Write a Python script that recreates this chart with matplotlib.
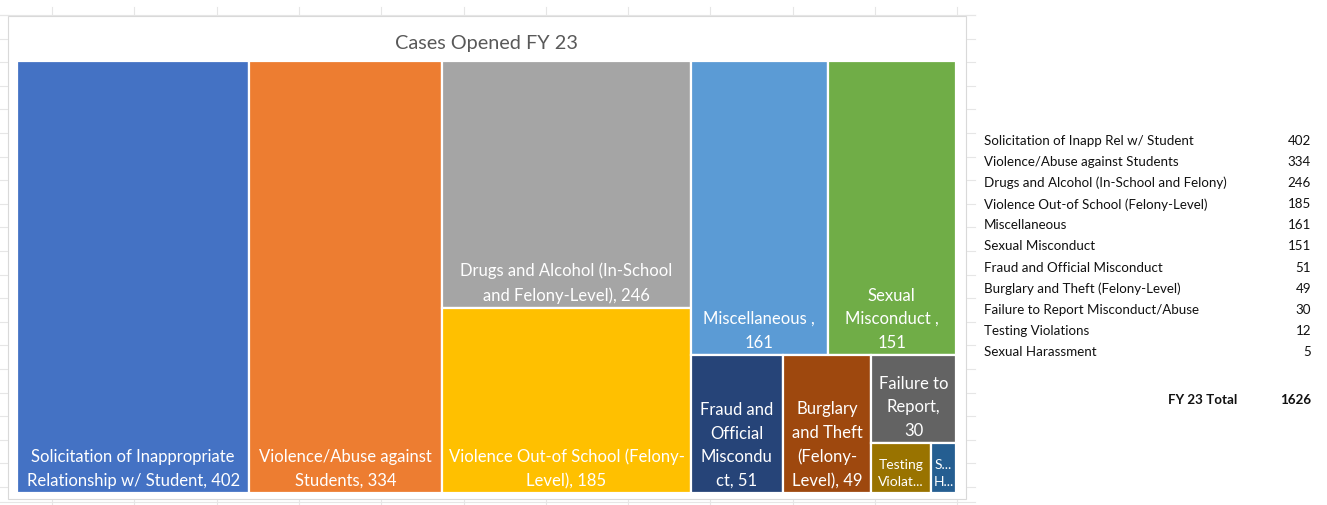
import matplotlib
matplotlib.use("Agg")
import matplotlib.pyplot as plt
from matplotlib.patches import Rectangle
from matplotlib.lines import Line2D
import numpy as np

plt.rcParams['font.family'] = ['Lato', 'DejaVu Sans']

# ---------------- data ----------------
TITLE = "Cases Opened FY 23"
values = [402, 334, 246, 185, 161, 151, 51, 49, 30, 12, 5]
cell_labels = [
    "Solicitation of Inappropriate\nRelationship w/ Student, {v}",
    "Violence/Abuse against\nStudents, {v}",
    "Drugs and Alcohol (In-School\nand Felony-Level), {v}",
    "Violence Out-of School (Felony-\nLevel), {v}",
    "Miscellaneous ,\n{v}",
    "Sexual\nMisconduct ,\n{v}",
    "Fraud and\nOfficial\nMiscondu\nct, {v}",
    "Burglary\nand Theft\n(Felony-\nLevel), {v}",
    "Failure to\nReport,\n{v}",
    "Testing\nViolat...",
    "S...\nH...",
]
table_names = [
    "Solicitation of Inapp Rel w/ Student",
    "Violence/Abuse against Students",
    "Drugs and Alcohol (In-School and Felony)",
    "Violence Out-of School (Felony-Level)",
    "Miscellaneous",
    "Sexual Misconduct",
    "Fraud and Official Misconduct",
    "Burglary and Theft (Felony-Level)",
    "Failure to Report Misconduct/Abuse",
    "Testing Violations",
    "Sexual Harassment",
]
total_label = "FY 23 Total"

colors = ["#4472C4", "#ED7D31", "#A5A5A5", "#FFC000", "#5B9BD5", "#70AD47",
          "#264478", "#9E480E", "#636363", "#997300", "#255E91"]

# ---------------- squarified layout ----------------
LAYOUT_W, LAYOUT_H = 2.8, 1.0


def worst(row, side):
    s = sum(row)
    return max(max(side * side * r / (s * s), (s * s) / (side * side * r)) for r in row)


def squarify(vals, x, y, w, h):
    total = sum(vals)
    areas = [v * w * h / total for v in vals]
    rects = []
    i, n = 0, len(areas)
    while i < n:
        side = min(w, h)
        row = [areas[i]]
        j = i + 1
        while j < n and worst(row + [areas[j]], side) <= worst(row, side):
            row.append(areas[j])
            j += 1
        s = sum(row)
        if w >= h:
            t = s / h
            yy = y
            for a in row:
                hh = a / t
                rects.append((x, yy, t, hh))
                yy += hh
            x += t
            w -= t
        else:
            t = s / w
            xx = x
            for a in row:
                ww = a / t
                rects.append((xx, y, ww, t))
                xx += ww
            y += t
            h -= t
        i = j
    return rects


W, H = 1327, 506
fig = plt.figure(figsize=(W / 100, H / 100), dpi=100)
fig.patch.set_facecolor("white")


def fx(px):
    return px / W


def fy(py):
    return 1 - py / H


# faint spreadsheet grid around the chart
grid_c = "#E6E6E6"
for gx in np.arange(52, 970, 82.3):
    fig.add_artist(Line2D([fx(gx), fx(gx)], [fy(8), fy(17)], color=grid_c, lw=0.8, zorder=-10))
    fig.add_artist(Line2D([fx(gx), fx(gx)], [fy(500), fy(506)], color=grid_c, lw=0.8, zorder=-10))
for gy in np.arange(16, 506, 23.6):
    fig.add_artist(Line2D([fx(0), fx(8)], [fy(gy), fy(gy)], color=grid_c, lw=0.8, zorder=-10))
    fig.add_artist(Line2D([fx(966), fx(975)], [fy(gy), fy(gy)], color=grid_c, lw=0.8, zorder=-10))
fig.add_artist(Line2D([fx(0), fx(975)], [fy(16), fy(16)], color=grid_c, lw=0.8, zorder=-10))
fig.add_artist(Line2D([fx(0), fx(975)], [fy(503), fy(503)], color=grid_c, lw=0.8, zorder=-10))

# chart frame
fig.add_artist(Rectangle((fx(8), fy(500)), fx(966) - fx(8), fy(17) - fy(500),
                         transform=fig.transFigure, facecolor="white",
                         edgecolor="#D9D9D9", lw=0.8, zorder=-5))

fig.text(fx(486), fy(43), TITLE, ha="center", va="center", fontsize=14.3, color="#595959")

ax = fig.add_axes([fx(17), fy(494), fx(956) - fx(17), fy(62) - fy(494)])
ax.set_zorder(2)
ax.patch.set_alpha(0)
ax.set_xlim(0, LAYOUT_W)
ax.set_ylim(LAYOUT_H, 0)
ax.axis("off")

rects = squarify(values, 0, 0, LAYOUT_W, LAYOUT_H)
for (x, y, w, h), c, lab, v in zip(rects, colors, cell_labels, values):
    ax.add_patch(Rectangle((x, y), w, h, facecolor=c, edgecolor="white", lw=1.6))
    small = v < 20
    ax.annotate(lab.format(v=v), xy=(x + w / 2, y + h), xytext=(0, 5 if not small else 6),
                textcoords="offset pixels", ha="center", va="bottom",
                color="white", fontsize=10 if small else 12.0,
                linespacing=1.5 if small else 1.58)

# table on the right
row_y0, row_dy = 141, 21.1
for k, (name, v) in enumerate(zip(table_names, values)):
    yy = row_y0 + k * row_dy
    fig.text(fx(984), fy(yy), name, ha="left", va="center", fontsize=9.6, color="#111111")
    fig.text(fx(1311), fy(yy), str(v), ha="right", va="center", fontsize=9.6, color="#111111")
fig.text(fx(1237), fy(400), total_label, ha="right", va="center", fontsize=9.6,
         fontweight="bold", color="#111111")
fig.text(fx(1311), fy(400), str(sum(values)), ha="right", va="center", fontsize=9.6,
         fontweight="bold", color="#111111")

fig.savefig("out.png", dpi=100, facecolor="white")
